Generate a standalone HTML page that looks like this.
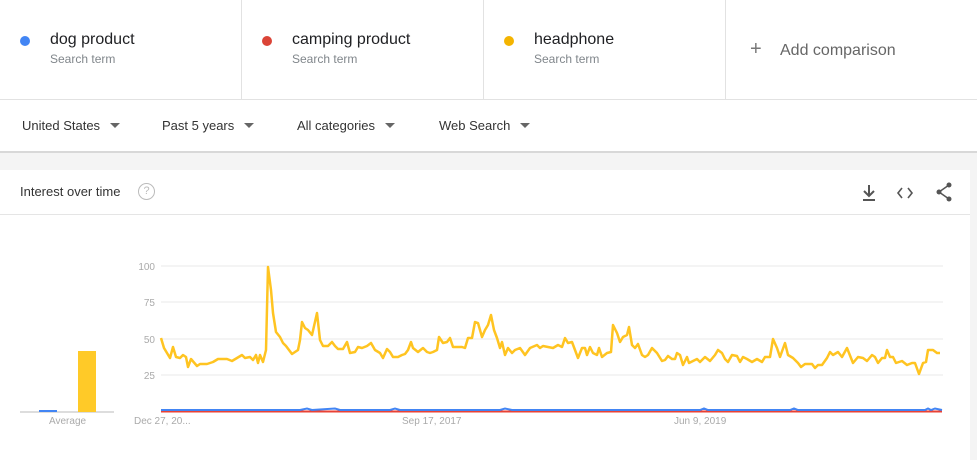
<!DOCTYPE html>
<html><head><meta charset="utf-8"><style>
body{margin:0;width:977px;height:460px;overflow:hidden;background:#f4f4f4;font-family:"Liberation Sans",Arial,sans-serif;position:relative}
.card{position:absolute;top:0;height:99px;background:#fff;border-right:1px solid #e2e2e2;border-bottom:1px solid #e2e2e2}
.dot{position:absolute;left:20px;top:36px;width:10px;height:10px;border-radius:50%}
.t{position:absolute;left:50px;top:31px;font-size:16px;color:#202124}
.s{position:absolute;left:50px;top:52px;font-size:12px;color:#80868b}
.bar{position:absolute;top:100px;left:0;width:977px;height:51px;background:#fff;border-bottom:2px solid #d8d8d8}
.f{position:absolute;top:18px;font-size:13px;color:#333}
.f:after{content:"";display:inline-block;margin-left:10px;border:5px solid transparent;border-top:5px solid #666;border-bottom:0;vertical-align:2px}
.panel{position:absolute;left:0;top:170px;width:970px;height:290px;background:#fff}
</style></head><body>
<div class="card" style="left:0;width:241px"><div class="dot" style="background:#4285f4"></div><div class="t">dog product</div><div class="s">Search term</div></div>
<div class="card" style="left:242px;width:241px"><div class="dot" style="background:#db4437"></div><div class="t">camping product</div><div class="s">Search term</div></div>
<div class="card" style="left:484px;width:241px"><div class="dot" style="background:#f4b400"></div><div class="t">headphone</div><div class="s">Search term</div></div>
<div class="card" style="left:726px;width:251px;border-right:0"><div style="position:absolute;left:24px;top:38px;font-size:20px;color:#777">+</div><div style="position:absolute;left:54px;top:42px;font-size:16px;color:#666">Add comparison</div></div>
<div class="bar">
<div class="f" style="left:22px">United States</div>
<div class="f" style="left:162px">Past 5 years</div>
<div class="f" style="left:297px">All categories</div>
<div class="f" style="left:439px">Web Search</div>
</div>
<div class="panel">
<div style="position:absolute;left:20px;top:14px;font-size:13px;color:#333">Interest over time</div>
<div style="position:absolute;left:138px;top:13px;width:15px;height:15px;border:1.5px solid #bbb;border-radius:50%;font-size:11px;color:#bbb;text-align:center;line-height:15px">?</div>
<svg style="position:absolute;left:855px;top:10px" width="100" height="25">
<path d="M14 5v10M9 11l5 5 5-5M8 20h12" stroke="#555" stroke-width="2" fill="none"/>
<path d="M47 8l-4 5 4 5M53 8l4 5-4 5" stroke="#555" stroke-width="1.6" fill="none"/>
<circle cx="94" cy="5" r="2.5" fill="#555"/><circle cx="84" cy="12" r="2.5" fill="#555"/><circle cx="94" cy="19" r="2.5" fill="#555"/>
<path d="M94 5L84 12 94 19" stroke="#555" stroke-width="1.5" fill="none"/>
</svg>
<div style="position:absolute;left:0;top:44px;width:970px;height:1px;background:#e5e5e5"></div>
</div>
<svg style="position:absolute;left:0;top:0" width="977" height="460">
<g stroke="#e8e8e8" stroke-width="1"><line x1="161" y1="266" x2="943" y2="266"/><line x1="161" y1="302" x2="943" y2="302"/><line x1="161" y1="339" x2="943" y2="339"/><line x1="161" y1="375" x2="943" y2="375"/></g>
<g font-size="10" fill="#aaa" text-anchor="end" font-family="Liberation Sans"><text x="155" y="270">100</text><text x="155" y="306">75</text><text x="155" y="343">50</text><text x="155" y="379">25</text></g>
<g font-size="10" fill="#aaa" font-family="Liberation Sans"><text x="134" y="424">Dec 27, 20...</text><text x="402" y="424">Sep 17, 2017</text><text x="674" y="424">Jun 9, 2019</text><text x="49" y="424">Average</text></g>
<line x1="20" y1="412" x2="114" y2="412" stroke="#bbb"/>
<rect x="39" y="410" width="18" height="2" fill="#4285f4"/>
<rect x="78" y="351" width="18" height="61" fill="#ffca28"/>
<line x1="161" y1="411.5" x2="942" y2="411.5" stroke="#e94235" stroke-width="2"/>
<polyline fill="none" stroke="#4285f4" stroke-width="2" points="161,410 300,410 307,408.5 312,410 335,408.5 340,410 390,410 395,408.5 400,410 500,410 505,408.5 512,410 700,410 704,408.5 708,410 790,410 794,408.5 798,410 925,410 928,408.5 931,410 935,408.5 942,410"/>
<polyline fill="none" stroke="#ffc421" stroke-width="2.5" stroke-linejoin="round" points="161,338 164,348 170,358 173,347 176,357 180,358 183,355 186,357 188,367 191,359 197,366 200,364 207,364 213,362 218,359 227,359 232,361 237,358 242,355 245,358 250,357 253,360 256,355 258,363 260,355 263,362 266,350 268,267 271,290 273,313 276,332 280,337 283,343 286,346 289,350 292,354 295,352 298,350 300,340 302,322 305,328 308,330 312,335 317,313 320,340 323,346 328,346 332,342 335,346 338,349 343,349 347,342 350,353 355,352 358,347 362,348 367,346 371,343 375,350 380,353 383,358 387,349 390,352 393,357 398,357 402,355 405,354 408,350 411,342 413,348 418,352 423,348 427,352 430,353 433,352 437,350 439,337 443,343 447,342 450,338 453,347 457,347 462,347 465,348 468,338 472,338 475,322 478,323 482,337 485,330 488,325 491,315 494,330 497,338 500,348 502,342 505,355 508,348 512,353 515,350 520,348 525,355 530,348 537,345 540,348 543,346 548,347 553,348 558,345 562,347 565,338 568,343 572,342 575,350 578,358 582,348 585,348 587,355 590,347 593,353 597,355 599,348 602,357 607,353 611,352 613,325 617,333 620,342 623,337 627,335 629,327 632,345 635,348 638,344 642,355 645,357 648,355 652,348 657,353 662,361 665,360 668,356 672,359 675,359 677,353 680,355 683,365 687,357 689,363 693,361 697,359 700,362 705,357 710,361 715,355 718,350 722,353 725,359 728,362 732,355 737,356 740,362 743,357 747,359 752,362 757,359 762,362 765,357 770,357 773,339 777,348 780,357 785,343 788,355 793,358 798,363 801,367 805,364 812,364 815,368 818,365 822,365 827,358 830,352 833,355 838,352 842,357 847,348 853,363 858,357 863,358 867,361 872,355 875,357 878,363 882,358 885,358 887,350 890,357 893,357 896,363 902,361 907,365 912,363 915,363 919,374 923,363 926,362 928,350 933,350 937,353 940,353"/>
</svg>
</body></html>
